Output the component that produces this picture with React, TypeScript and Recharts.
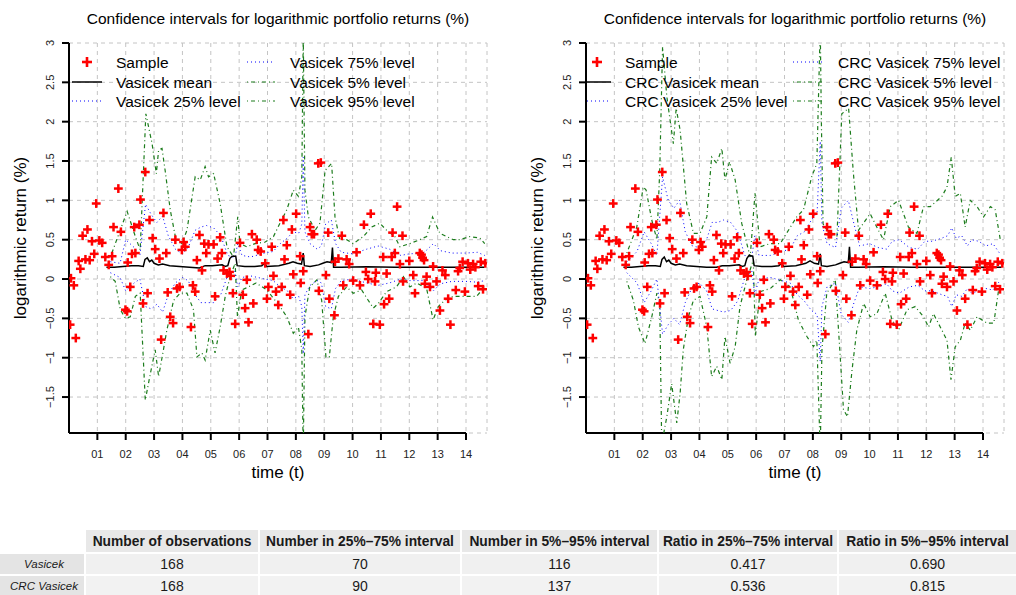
import { ComposedChart, Line, Scatter, XAxis, YAxis, CartesianGrid, Legend, ReferenceLine } from "recharts";

type Pt = [number, number];

const FONT = "'Liberation Sans', Arial, Helvetica, sans-serif";

// observed log returns (time in fractional years, value in %)
const sample: Pt[] = [
  [2000.04, -0.58], [2000.07, 0.01], [2000.17, -0.08], [2000.24, -0.75], [2000.34, 0.23],
  [2000.4, 0.13], [2000.48, 0.55], [2000.58, 0.25], [2000.65, 0.63], [2000.73, 0.24],
  [2000.81, 0.48], [2000.89, 0.32], [2000.96, 0.96], [2001.07, 0.49], [2001.17, 0.46],
  [2001.28, 0.28], [2001.4, 0.18], [2001.52, 0.29], [2001.57, 0.66], [2001.74, 1.15],
  [2001.83, 0.6], [2001.99, -0.39], [2002.05, -0.41], [2002.07, 0.21], [2002.16, -0.1],
  [2002.22, 0.32], [2002.3, 0.66], [2002.34, 0.33], [2002.48, 0.69], [2002.52, 1.01],
  [2002.61, -0.31], [2002.69, 1.36], [2002.77, -0.18], [2002.84, 0.75], [2002.95, 0.52],
  [2003.04, 0.38], [2003.19, 0.26], [2003.25, -0.77], [2003.33, 0.84], [2003.43, 0.33],
  [2003.48, -0.17], [2003.57, -0.48], [2003.67, -0.56], [2003.75, 0.5], [2003.81, -0.12],
  [2003.9, -0.1], [2003.98, 0.37], [2004.04, 0.47], [2004.1, 0.41], [2004.3, -0.61],
  [2004.37, -0.08], [2004.45, -0.16], [2004.51, 0.24], [2004.6, 0.56], [2004.69, 0.11],
  [2004.77, 0.45], [2004.84, 0.33], [2004.92, 0.44], [2005.1, 0.44], [2005.15, -0.22],
  [2005.24, 0.26], [2005.33, 0.53], [2005.39, 0.33], [2005.45, 0.11], [2005.57, 0.07],
  [2005.66, 0.09], [2005.7, 0.04], [2005.78, -0.18], [2005.86, -0.57], [2006.03, 0.46],
  [2006.13, -0.2], [2006.21, -0.37], [2006.27, -0.01], [2006.33, -0.55], [2006.45, 0.57],
  [2006.5, -0.31], [2006.62, 0.5], [2006.67, 0.37], [2006.76, 0.35], [2006.92, 0.2],
  [2006.98, -0.25], [2007.03, -0.1], [2007.15, 0.41], [2007.21, 0.04], [2007.3, -0.16],
  [2007.38, -0.33], [2007.5, -0.1], [2007.56, 0.75], [2007.6, 0.25], [2007.68, 0.43],
  [2007.8, -0.2], [2007.86, 0.63], [2007.91, 0.06], [2008.01, 0.83], [2008.15, 0.29],
  [2008.17, -0.05], [2008.26, 0.1], [2008.44, -0.7], [2008.5, 0.66], [2008.56, 0.57],
  [2008.64, 0.57], [2008.79, 1.47], [2008.81, -0.15], [2008.88, 1.48], [2009.06, 0.05],
  [2009.14, 0.59], [2009.18, -0.25], [2009.36, -0.46], [2009.38, 0.22], [2009.5, 0.26],
  [2009.62, 0.55], [2009.67, -0.08], [2009.79, 0.25], [2009.88, 0.19], [2010.02, -0.02],
  [2010.14, 0.34], [2010.26, -0.08], [2010.4, 0.69], [2010.47, 0.09], [2010.55, 0.0],
  [2010.64, 0.83], [2010.73, -0.57], [2010.79, -0.03], [2010.82, 0.08], [2010.96, -0.58],
  [2011.08, 0.28], [2011.11, -0.32], [2011.2, 0.07], [2011.29, -0.25], [2011.38, 0.28],
  [2011.41, 0.59], [2011.49, 0.33], [2011.57, 0.92], [2011.67, 0.19], [2011.76, 0.55],
  [2011.78, -0.03], [2012.0, 0.23], [2012.14, 0.05], [2012.2, -0.18], [2012.37, 0.33],
  [2012.43, 0.31], [2012.47, 0.27], [2012.52, 0.24], [2012.55, -0.06], [2012.61, 0.03],
  [2012.73, -0.1], [2012.84, 0.16], [2012.96, -0.03], [2013.08, -0.4], [2013.17, 0.11],
  [2013.27, 0.05], [2013.37, -0.25], [2013.45, -0.58], [2013.64, -0.14], [2013.72, 0.1],
  [2013.78, 0.14], [2013.88, 0.22], [2013.96, -0.16], [2014.07, 0.2], [2014.15, 0.12],
  [2014.25, 0.19], [2014.33, 0.15], [2014.43, -0.09], [2014.52, 0.22], [2014.6, -0.13],
  [2014.68, 0.2],
];

const vasicekMean: Pt[] = [
  [2001.32, 0.15], [2001.6, 0.15], [2001.9, 0.16], [2002.2, 0.17], [2002.45, 0.17], [2002.62, 0.16],
  [2002.68, 0.25], [2002.76, 0.27], [2002.84, 0.22], [2002.92, 0.24], [2003.0, 0.2], [2003.15, 0.18],
  [2003.3, 0.19], [2003.55, 0.17], [2003.9, 0.16], [2004.25, 0.15], [2004.6, 0.14], [2004.8, 0.17],
  [2005.05, 0.17], [2005.4, 0.18], [2005.5, 0.16], [2005.6, 0.17], [2005.67, 0.26], [2005.75, 0.29],
  [2005.88, 0.29], [2005.93, 0.17], [2006.2, 0.16], [2006.55, 0.16], [2006.8, 0.17], [2006.9, 0.2],
  [2006.97, 0.16], [2007.4, 0.17], [2007.75, 0.2], [2007.9, 0.22], [2008.05, 0.2], [2008.2, 0.19],
  [2008.26, 0.33], [2008.3, 0.17], [2008.5, 0.16], [2008.8, 0.18], [2008.95, 0.2], [2009.1, 0.22],
  [2009.25, 0.21], [2009.29, 0.4], [2009.33, 0.15], [2009.6, 0.15], [2010.5, 0.155], [2011.5, 0.15],
  [2012.5, 0.15], [2013.5, 0.15], [2014.65, 0.15],
];

const vasicek25: Pt[] = [
  [2001.46, 0.08], [2001.8, 0.02], [2002.0, -0.15], [2002.3, -0.05], [2002.5, 0.0], [2002.7, -0.35],
  [2002.9, -0.38], [2003.1, -0.32], [2003.3, -0.42], [2003.5, -0.2], [2003.75, -0.05], [2004.0, 0.02],
  [2004.2, -0.02], [2004.45, -0.2], [2004.65, -0.3], [2004.85, -0.3], [2005.1, -0.3], [2005.35, -0.2],
  [2005.6, 0.05], [2005.85, 0.1], [2005.95, -0.1], [2006.1, 0.02], [2006.4, 0.04], [2006.9, 0.0],
  [2007.2, -0.02], [2007.45, -0.1], [2007.7, -0.15], [2007.9, -0.25], [2008.1, -0.22], [2008.21, -0.35],
  [2008.26, -0.95], [2008.32, -0.2], [2008.5, -0.08], [2008.75, -0.02], [2008.9, -0.05], [2009.05, -0.35],
  [2009.25, -0.38], [2009.4, -0.12], [2009.6, -0.02], [2010.0, 0.0], [2010.5, -0.05], [2010.9, -0.08],
  [2011.3, -0.05], [2011.7, 0.0], [2012.0, -0.02], [2012.5, -0.02], [2012.85, -0.15], [2013.1, -0.06],
  [2013.5, -0.03], [2014.0, -0.03], [2014.4, -0.04], [2014.66, -0.02],
];

const vasicek75: Pt[] = [
  [2001.46, 0.22], [2001.8, 0.2], [2002.0, 0.5], [2002.3, 0.4], [2002.5, 0.3], [2002.7, 0.95],
  [2002.9, 0.82], [2003.1, 0.72], [2003.3, 0.8], [2003.5, 0.55], [2003.75, 0.38], [2004.0, 0.32],
  [2004.2, 0.4], [2004.45, 0.62], [2004.65, 0.66], [2004.85, 0.68], [2005.1, 0.65], [2005.35, 0.55],
  [2005.6, 0.3], [2005.85, 0.27], [2005.95, 0.45], [2006.1, 0.3], [2006.4, 0.28], [2006.9, 0.33],
  [2007.2, 0.35], [2007.45, 0.45], [2007.7, 0.52], [2007.9, 0.6], [2008.1, 0.58], [2008.21, 0.7],
  [2008.26, 1.55], [2008.32, 0.6], [2008.5, 0.45], [2008.75, 0.38], [2008.9, 0.42], [2009.05, 0.7],
  [2009.25, 0.75], [2009.4, 0.45], [2009.6, 0.34], [2010.0, 0.32], [2010.5, 0.38], [2010.9, 0.42],
  [2011.3, 0.38], [2011.7, 0.3], [2012.0, 0.32], [2012.5, 0.33], [2012.85, 0.45], [2013.1, 0.36],
  [2013.5, 0.33], [2014.0, 0.33], [2014.4, 0.34], [2014.66, 0.3],
];

const vasicek5: Pt[] = [
  [2001.46, 0.03], [2001.63, -0.03], [2001.81, -0.39], [2001.99, -0.5], [2002.16, -0.48], [2002.34, -0.22],
  [2002.51, -0.18], [2002.69, -1.54], [2002.87, -1.2], [2003.04, -0.9], [2003.16, -1.24], [2003.33, -0.9],
  [2003.45, -0.65], [2003.69, -0.27], [2003.92, -0.18], [2004.16, -0.18], [2004.39, -0.39], [2004.51, -0.99],
  [2004.69, -0.94], [2004.8, -1.03], [2004.98, -0.65], [2005.15, -0.94], [2005.33, -0.61], [2005.51, -0.22],
  [2005.68, 0.03], [2005.86, 0.2], [2005.94, -0.48], [2006.09, -0.14], [2006.33, -0.1], [2006.6, -0.05],
  [2006.98, -0.14], [2007.44, -0.35], [2007.68, -0.48], [2007.91, -0.69], [2008.09, -0.61], [2008.21, -0.9],
  [2008.26, -2.2], [2008.32, -0.48], [2008.49, -0.1], [2008.74, -0.01], [2008.91, -0.27], [2009.06, -0.99],
  [2009.18, -0.99], [2009.32, -0.48], [2009.5, -0.22], [2009.79, -0.1], [2010.02, -0.18], [2010.32, -0.14],
  [2010.55, -0.27], [2010.73, -0.37], [2010.91, -0.31], [2011.2, -0.16], [2011.55, -0.1], [2011.79, 0.03],
  [2012.02, -0.1], [2012.26, -0.05], [2012.61, -0.12], [2012.84, -0.52], [2013.02, -0.35], [2013.25, -0.27],
  [2013.55, -0.22], [2014.02, -0.22], [2014.37, -0.22], [2014.66, -0.1],
];

const vasicek95: Pt[] = [
  [2001.46, 0.28], [2002.05, 0.86], [2002.34, 0.54], [2002.51, 0.37], [2002.71, 2.1], [2002.93, 1.72],
  [2003.08, 1.34], [2003.16, 1.64], [2003.28, 1.66], [2003.39, 1.38], [2003.57, 0.88], [2003.75, 0.54],
  [2003.98, 0.45], [2004.16, 0.62], [2004.45, 1.3], [2004.63, 1.26], [2004.8, 1.43], [2004.92, 1.3],
  [2005.1, 1.34], [2005.33, 0.96], [2005.57, 0.41], [2005.8, 0.28], [2005.95, 0.79], [2006.03, 0.45],
  [2006.27, 0.41], [2006.56, 0.45], [2006.92, 0.47], [2007.21, 0.54], [2007.44, 0.71], [2007.68, 0.88],
  [2007.91, 1.13], [2008.09, 1.05], [2008.21, 1.3], [2008.26, 3.1], [2008.32, 1.13], [2008.44, 0.79],
  [2008.68, 0.62], [2008.85, 0.71], [2009.03, 1.38], [2009.26, 1.47], [2009.38, 0.79], [2009.55, 0.5],
  [2009.79, 0.5], [2010.02, 0.45], [2010.38, 0.54], [2010.67, 0.66], [2010.96, 0.71], [2011.2, 0.62],
  [2011.49, 0.54], [2011.67, 0.41], [2012.02, 0.45], [2012.37, 0.5], [2012.61, 0.54], [2012.82, 0.79],
  [2013.08, 0.58], [2013.31, 0.54], [2013.55, 0.5], [2013.78, 0.5], [2014.13, 0.54], [2014.49, 0.52],
  [2014.66, 0.45],
];

const crcMean: Pt[] = [
  [2001.32, 0.15], [2001.6, 0.15], [2001.9, 0.16], [2002.2, 0.17], [2002.45, 0.17], [2002.62, 0.16],
  [2002.68, 0.25], [2002.76, 0.28], [2002.84, 0.22], [2002.92, 0.24], [2003.0, 0.2], [2003.15, 0.18],
  [2003.3, 0.19], [2003.55, 0.17], [2003.9, 0.16], [2004.25, 0.15], [2004.6, 0.15], [2004.8, 0.17],
  [2005.05, 0.17], [2005.4, 0.18], [2005.5, 0.16], [2005.6, 0.17], [2005.67, 0.26], [2005.75, 0.3],
  [2005.88, 0.29], [2005.93, 0.17], [2006.2, 0.16], [2006.55, 0.16], [2006.8, 0.17], [2006.9, 0.2],
  [2006.97, 0.16], [2007.4, 0.17], [2007.75, 0.2], [2007.9, 0.23], [2008.05, 0.2], [2008.2, 0.19],
  [2008.26, 0.32], [2008.3, 0.17], [2008.5, 0.16], [2008.8, 0.18], [2008.95, 0.2], [2009.1, 0.22],
  [2009.25, 0.21], [2009.29, 0.41], [2009.33, 0.15], [2009.6, 0.15], [2010.5, 0.155], [2011.5, 0.15],
  [2012.5, 0.15], [2013.5, 0.15], [2014.65, 0.15],
];

const crc25: Pt[] = [
  [2001.44, 0.08], [2001.8, -0.05], [2002.05, -0.3], [2002.3, -0.15], [2002.5, 0.0], [2002.7, -0.7],
  [2002.9, -0.58], [2003.1, -0.5], [2003.3, -0.58], [2003.5, -0.3], [2003.75, -0.1], [2004.0, -0.05],
  [2004.25, -0.15], [2004.45, -0.38], [2004.65, -0.4], [2004.85, -0.42], [2005.1, -0.4], [2005.35, -0.28],
  [2005.6, 0.02], [2005.85, 0.1], [2005.95, -0.2], [2006.1, 0.0], [2006.5, 0.02], [2006.9, -0.02],
  [2007.2, -0.05], [2007.45, -0.2], [2007.7, -0.28], [2007.95, -0.4], [2008.15, -0.45], [2008.26, -1.05],
  [2008.32, -0.35], [2008.5, -0.1], [2008.8, -0.05], [2009.0, -0.45], [2009.25, -0.55], [2009.45, -0.3],
  [2009.65, -0.1], [2010.0, -0.12], [2010.3, -0.1], [2010.6, -0.06], [2010.8, -0.15], [2011.05, -0.18],
  [2011.4, -0.1], [2011.7, -0.08], [2011.95, -0.15], [2012.2, -0.15], [2012.55, -0.2], [2012.75, -0.22],
  [2012.9, -0.35], [2013.05, -0.2], [2013.25, -0.22], [2013.45, -0.12], [2013.6, -0.18], [2013.85, -0.15],
  [2014.1, -0.12], [2014.35, -0.14], [2014.6, -0.02],
];

const crc75: Pt[] = [
  [2001.44, 0.22], [2001.8, 0.35], [2002.05, 0.6], [2002.3, 0.45], [2002.5, 0.3], [2002.7, 1.3],
  [2002.9, 1.0], [2003.1, 0.9], [2003.3, 1.0], [2003.5, 0.6], [2003.75, 0.42], [2004.0, 0.4],
  [2004.25, 0.5], [2004.45, 0.72], [2004.65, 0.72], [2004.85, 0.75], [2005.1, 0.72], [2005.35, 0.6],
  [2005.6, 0.3], [2005.85, 0.28], [2005.95, 0.55], [2006.1, 0.3], [2006.5, 0.3], [2006.9, 0.35],
  [2007.2, 0.38], [2007.45, 0.55], [2007.7, 0.6], [2007.95, 0.75], [2008.15, 0.85], [2008.26, 1.75],
  [2008.32, 0.7], [2008.5, 0.45], [2008.8, 0.4], [2009.0, 0.9], [2009.25, 1.0], [2009.45, 0.7],
  [2009.65, 0.42], [2010.0, 0.45], [2010.3, 0.4], [2010.6, 0.38], [2010.8, 0.48], [2011.05, 0.5],
  [2011.4, 0.4], [2011.7, 0.38], [2011.95, 0.48], [2012.2, 0.48], [2012.55, 0.52], [2012.75, 0.55],
  [2012.9, 0.65], [2013.05, 0.52], [2013.25, 0.55], [2013.45, 0.42], [2013.6, 0.5], [2013.85, 0.48],
  [2014.1, 0.42], [2014.35, 0.45], [2014.6, 0.32],
];

const crc5: Pt[] = [
  [2001.44, -0.03], [2001.67, -0.27], [2001.85, -0.61], [2002.08, -0.82], [2002.32, -0.48], [2002.5, -0.18],
  [2002.6, -0.3], [2002.67, -2.1], [2002.85, -1.75], [2003.02, -1.33], [2003.2, -1.83], [2003.32, -1.45],
  [2003.43, -0.9], [2003.61, -0.48], [2003.79, -0.27], [2004.02, -0.22], [2004.26, -0.61], [2004.43, -1.24],
  [2004.61, -1.11], [2004.79, -1.28], [2004.9, -0.73], [2005.08, -1.07], [2005.26, -0.86], [2005.43, -0.35],
  [2005.67, -0.01], [2005.9, 0.24], [2005.97, -0.73], [2006.14, -0.16], [2006.5, -0.12], [2006.85, -0.01],
  [2007.2, -0.1], [2007.49, -0.52], [2007.79, -0.73], [2008.02, -0.86], [2008.14, -0.78], [2008.26, -2.2],
  [2008.32, -0.9], [2008.49, -0.18], [2008.79, -0.01], [2008.95, -0.9], [2009.08, -1.66], [2009.22, -1.75],
  [2009.38, -1.16], [2009.55, -0.65], [2009.79, -0.31], [2010.02, -0.48], [2010.26, -0.44], [2010.55, -0.18],
  [2010.79, -0.52], [2011.02, -0.65], [2011.32, -0.39], [2011.61, -0.35], [2011.9, -0.48], [2012.08, -0.61],
  [2012.25, -0.44], [2012.55, -0.65], [2012.73, -0.78], [2012.87, -1.28], [2013.02, -0.86], [2013.2, -0.78],
  [2013.37, -0.56], [2013.55, -0.65], [2013.79, -0.48], [2014.14, -0.56], [2014.38, -0.56], [2014.55, -0.14],
];

const crc95: Pt[] = [
  [2001.44, 0.33], [2001.79, 0.66], [2002.02, 1.17], [2002.12, 1.13], [2002.32, 0.75], [2002.5, 0.5],
  [2002.6, 1.38], [2002.7, 2.95], [2002.85, 2.32], [2003.08, 1.72], [2003.18, 2.17], [2003.32, 1.89],
  [2003.55, 0.96], [2003.79, 0.58], [2004.02, 0.58], [2004.26, 0.79], [2004.43, 1.55], [2004.61, 1.47],
  [2004.79, 1.66], [2004.9, 1.26], [2005.06, 1.49], [2005.26, 1.26], [2005.49, 0.71], [2005.79, 0.28],
  [2005.96, 1.09], [2006.14, 0.41], [2006.49, 0.45], [2006.85, 0.45], [2007.43, 0.79], [2007.67, 0.88],
  [2007.96, 1.3], [2008.14, 1.47], [2008.26, 3.2], [2008.3, 2.0], [2008.36, 0.7], [2008.49, 0.62],
  [2008.85, 0.54], [2009.02, 2.1], [2009.26, 2.17], [2009.43, 1.34], [2009.61, 0.62], [2010.02, 0.83],
  [2010.31, 0.62], [2010.49, 0.5], [2010.73, 0.92], [2011.02, 1.0], [2011.37, 0.66], [2011.67, 0.58],
  [2011.9, 0.92], [2012.14, 0.92], [2012.55, 1.05], [2012.73, 1.17], [2012.88, 1.55], [2013.02, 1.05],
  [2013.2, 1.09], [2013.37, 0.66], [2013.55, 1.0], [2013.79, 0.92], [2014.02, 0.79], [2014.26, 0.92],
  [2014.43, 0.88], [2014.61, 0.5],
];

const xTicks = [2001, 2002, 2003, 2004, 2005, 2006, 2007, 2008, 2009, 2010, 2011, 2012, 2013, 2014];
const xTickLabels = ["01", "02", "03", "04", "05", "06", "07", "08", "09", "10", "11", "12", "13", "14"];
const yTicks = [-1.5, -1, -0.5, 0, 0.5, 1, 1.5, 2, 2.5, 3];
const yTickLabels = ["\u22121.5", "\u22121", "\u22120.5", "0", "0.5", "1", "1.5", "2", "2.5", "3"];

const vasicekNames = ["Sample", "Vasicek mean", "Vasicek 25% level", "Vasicek 75% level", "Vasicek 5% level", "Vasicek 95% level"];
const crcNames = ["Sample", "CRC Vasicek mean", "CRC Vasicek 25% level", "CRC Vasicek 75% level", "CRC Vasicek 5% level", "CRC Vasicek 95% level"];

const tableHeader = ["Number of observations", "Number in 25%\u201375% interval", "Number in 5%\u201395% interval", "Ratio in 25%\u201375% interval", "Ratio in 5%\u201395% interval"];
const rowNames = ["Vasicek", "CRC Vasicek"];
const nObs = [168, 168];
const nIn25to75 = [70, 90];
const nIn5to95 = [116, 137];
const ratio25to75 = ["0.417", "0.536"];
const ratio5to95 = ["0.690", "0.815"];

const W = 508;
const H = 480;
const X_DOMAIN: [number, number] = [2000, 2014.74];
const Y_DOMAIN: [number, number] = [-1.957, 3];
const RED = "#ff0000";
const BLUE = "#0000ff";
const GREEN = "#1c7c1c";
const DOT = "1 3";
const DASHDOT = "1 3 4 3";

const rows = (pts: Pt[]) => pts.map(([t, v]) => ({ t, v }));

function Cross(props: any) {
  const { cx, cy } = props;
  if (cx == null || cy == null) return null;
  const r = 4.4;
  return (
    <g>
      <line x1={cx - r} x2={cx + r} y1={cy} y2={cy} stroke={RED} strokeWidth={2.5} />
      <line x1={cx} x2={cx} y1={cy - r} y2={cy + r} stroke={RED} strokeWidth={2.5} />
    </g>
  );
}

function XTick({ x, payload }: any) {
  return (
    <text x={x} y={458} textAnchor="middle" fontSize={11} fontFamily={FONT} fill="#222">
      {xTickLabels[xTicks.indexOf(payload.value)]}
    </text>
  );
}

function YTick({ y, payload }: any) {
  return (
    <text x={50} y={y} transform={`rotate(-90 50 ${y})`} textAnchor="middle" dominantBaseline="central" fontSize={11} fontFamily={FONT} fill="#222">
      {yTickLabels[yTicks.indexOf(payload.value)]}
    </text>
  );
}

type LegendPos = { lineA: [number, number]; plusX: number; textA: number; lineB: [number, number]; textB: number };

function LegendArt({ names, pos }: { names: string[]; pos: LegendPos }) {
  const ys = [62, 82, 101];
  const txt = (x: number, y: number, s: string) => (
    <text x={x} y={y} dominantBaseline="central" fontSize={15.5} fontFamily={FONT} fill="#000">{s}</text>
  );
  return (
    <svg width={W} height={120} style={{ display: "block" }}>
      <line x1={pos.plusX - 5} x2={pos.plusX + 5} y1={ys[0]} y2={ys[0]} stroke={RED} strokeWidth={2.6} />
      <line x1={pos.plusX} x2={pos.plusX} y1={ys[0] - 5} y2={ys[0] + 5} stroke={RED} strokeWidth={2.6} />
      {txt(pos.textA, ys[0], names[0])}
      <line x1={pos.lineA[0]} x2={pos.lineA[1]} y1={ys[1]} y2={ys[1]} stroke="#000" strokeWidth={1.5} />
      {txt(pos.textA, ys[1], names[1])}
      <line x1={pos.lineA[0]} x2={pos.lineA[1]} y1={ys[2]} y2={ys[2]} stroke={BLUE} strokeDasharray={DOT} />
      {txt(pos.textA, ys[2], names[2])}
      <line x1={pos.lineB[0]} x2={pos.lineB[1]} y1={ys[0]} y2={ys[0]} stroke={BLUE} strokeDasharray={DOT} />
      {txt(pos.textB, ys[0], names[3])}
      <line x1={pos.lineB[0]} x2={pos.lineB[1]} y1={ys[1]} y2={ys[1]} stroke={GREEN} strokeWidth={1.2} strokeDasharray={DASHDOT} />
      {txt(pos.textB, ys[1], names[4])}
      <line x1={pos.lineB[0]} x2={pos.lineB[1]} y1={ys[2]} y2={ys[2]} stroke={GREEN} strokeWidth={1.2} strokeDasharray={DASHDOT} />
      {txt(pos.textB, ys[2], names[5])}
    </svg>
  );
}

type PanelProps = {
  left: number;
  names: string[];
  mean: Pt[];
  q25: Pt[];
  q75: Pt[];
  q5: Pt[];
  q95: Pt[];
  legendPos: LegendPos;
};

function Panel({ left, names, mean, q25, q75, q5, q95, legendPos }: PanelProps) {
  const sampleRows = rows(sample);
  return (
    <div style={{ position: "absolute", left, top: 0, width: W, height: 500 }}>
      <ComposedChart width={W} height={H} margin={{ top: 43, right: 21, bottom: 0, left: 0 }}>
        <CartesianGrid stroke="#c4c4c4" strokeDasharray="4 4" />
        <XAxis
          type="number"
          dataKey="t"
          domain={X_DOMAIN}
          ticks={xTicks}
          interval={0}
          allowDataOverflow
          height={47}
          axisLine={false}
          tickSize={7}
          tickLine={{ stroke: "#000", strokeWidth: 2 }}
          tick={<XTick />}
        />
        <YAxis
          type="number"
          domain={Y_DOMAIN}
          ticks={yTicks}
          interval={0}
          allowDataOverflow
          width={69}
          tickSize={7}
          axisLine={{ stroke: "#000", strokeWidth: 2 }}
          tickLine={{ stroke: "#000", strokeWidth: 2 }}
          tick={<YTick />}
        />
        <ReferenceLine
          segment={[{ x: 2000, y: Y_DOMAIN[0] }, { x: 2014, y: Y_DOMAIN[0] }]}
          stroke="#000"
          strokeWidth={2}
          ifOverflow="visible"
        />
        <Scatter data={sampleRows} dataKey="v" shape={Cross} isAnimationActive={false} />
        <Line data={rows(q95)} dataKey="v" type="linear" stroke={GREEN} strokeWidth={1.2} strokeDasharray={DASHDOT} dot={false} activeDot={false} isAnimationActive={false} />
        <Line data={rows(q5)} dataKey="v" type="linear" stroke={GREEN} strokeWidth={1.2} strokeDasharray={DASHDOT} dot={false} activeDot={false} isAnimationActive={false} />
        <Line data={rows(q75)} dataKey="v" type="linear" stroke={BLUE} strokeWidth={1} strokeDasharray={DOT} dot={false} activeDot={false} isAnimationActive={false} />
        <Line data={rows(q25)} dataKey="v" type="linear" stroke={BLUE} strokeWidth={1} strokeDasharray={DOT} dot={false} activeDot={false} isAnimationActive={false} />
        <Line data={rows(mean)} dataKey="v" type="linear" stroke="#000" strokeWidth={1.5} dot={false} activeDot={false} isAnimationActive={false} />
        <Legend
          layout="horizontal"
          verticalAlign="middle"
          align="center"
          wrapperStyle={{ left: 0, top: 0, width: W, height: 120, pointerEvents: "none" }}
          content={() => <LegendArt names={names} pos={legendPos} />}
        />
      </ComposedChart>
      <svg width={W} height={500} style={{ position: "absolute", left: 0, top: 0, pointerEvents: "none" }}>
        <text x={278} y={18} textAnchor="middle" dominantBaseline="central" fontSize={15.5} fontFamily={FONT} fill="#000">
          Confidence intervals for logarithmic portfolio returns (%)
        </text>
        <text x={278} y={472} textAnchor="middle" dominantBaseline="central" fontSize={17} fontFamily={FONT} fill="#000">
          time (t)
        </text>
        <text x={20} y={238} transform="rotate(-90 20 238)" textAnchor="middle" dominantBaseline="central" fontSize={17} fontFamily={FONT} fill="#000">
          logarithmic return (%)
        </text>
      </svg>
    </div>
  );
}

const colLefts = [0, 86, 260, 462, 659, 839];
const colWidths = [84, 172, 200, 195, 178, 177];

function Cell({ col, top, height, bg, children, style }: any) {
  return (
    <div
      style={{
        position: "absolute",
        left: colLefts[col],
        top,
        width: colWidths[col],
        height,
        background: bg,
        display: "flex",
        alignItems: "center",
        justifyContent: "center",
        whiteSpace: "nowrap",
        overflow: "hidden",
        fontFamily: FONT,
        fontSize: 14,
        color: "#1a1a1a",
        ...style,
      }}
    >
      {children}
    </div>
  );
}

function StatsTable() {
  const bodyTops = [554, 576];
  const cols = [nObs, nIn25to75, nIn5to95, ratio25to75, ratio5to95];
  return (
    <div style={{ position: "absolute", left: 0, top: 0, width: 1016, height: 595 }}>
      {tableHeader.map((h, i) => (
        <Cell key={h} col={i + 1} top={530} height={22} bg="#e8e8e8" style={{ fontWeight: 700, fontSize: 13.8 }}>
          {h}
        </Cell>
      ))}
      {rowNames.map((r, ri) => (
        <div key={r}>
          <Cell col={0} top={bodyTops[ri]} height={20} bg="#e4e4e4" style={{ fontStyle: "italic", fontSize: 11.5, paddingLeft: 4, boxSizing: "border-box" }}>
            {r}
          </Cell>
          {cols.map((c, ci) => (
            <Cell key={ci} col={ci + 1} top={bodyTops[ri]} height={20} bg={ri === 0 ? "#f0f0f0" : "#f2f2f2"}>
              {c[ri]}
            </Cell>
          ))}
        </div>
      ))}
    </div>
  );
}

export default function App() {
  return (
    <div style={{ position: "absolute", left: 0, top: 0, width: 1016, height: 595, background: "#fff", overflow: "hidden" }}>
      <Panel
        left={0}
        names={vasicekNames}
        mean={vasicekMean}
        q25={vasicek25}
        q75={vasicek75}
        q5={vasicek5}
        q95={vasicek95}
        legendPos={{ lineA: [72, 102], plusX: 87, textA: 116, lineB: [247, 275], textB: 290 }}
      />
      <Panel
        left={517}
        names={crcNames}
        mean={crcMean}
        q25={crc25}
        q75={crc75}
        q5={crc5}
        q95={crc95}
        legendPos={{ lineA: [70, 94], plusX: 80, textA: 108, lineB: [276, 305], textB: 321 }}
      />
      <StatsTable />
    </div>
  );
}
